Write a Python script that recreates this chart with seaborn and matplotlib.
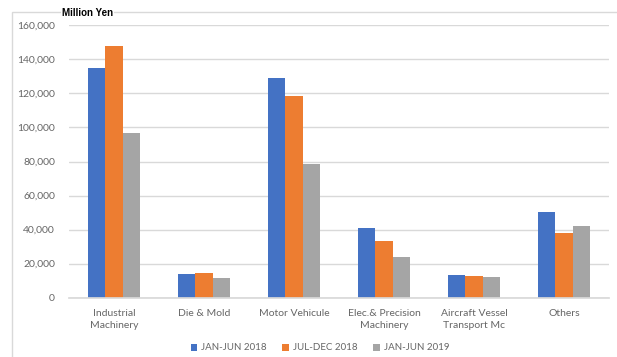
import matplotlib
matplotlib.use("Agg")
import matplotlib.pyplot as plt
from matplotlib.patches import Rectangle
import pandas as pd
import seaborn as sns

categories = [
    "Industrial\nMachinery",
    "Die & Mold",
    "Motor Vehicule",
    "Elec.& Precision\nMachinery",
    "Aircraft Vessel\nTransport Mc",
    "Others",
]
periods = ["JAN-JUN 2018", "JUL-DEC 2018", "JAN-JUN 2019"]
jan_jun_2018 = [134750, 13740, 128880, 40770, 13330, 50340]
jul_dec_2018 = [147850, 14330, 118480, 33480, 12920, 37830]
jan_jun_2019 = [96570, 11400, 78540, 23730, 12160, 42120]
y_ticks = [0, 20000, 40000, 60000, 80000, 100000, 120000, 140000, 160000]
colors = ["#4472C4", "#ED7D31", "#A5A5A5"]

rows = []
for period, values in zip(periods, [jan_jun_2018, jul_dec_2018, jan_jun_2019]):
    for cat, v in zip(categories, values):
        rows.append({"category": cat, "period": period, "value": v})
df = pd.DataFrame(rows)

sns.set_theme(style="white")
plt.rcParams["font.family"] = ["Lato", "DejaVu Sans"]

fig = plt.figure(figsize=(6.17, 3.57), dpi=100)
ax = fig.add_axes([69 / 617, 1 - 297.7 / 357, 540 / 617, 272.4 / 357])

sns.barplot(data=df, x="category", y="value", hue="period",
            order=categories, hue_order=periods, palette=colors,
            width=0.577, gap=0, saturation=1, linewidth=0,
            errorbar=None, ax=ax)

ax.set_ylim(0, 160000)
ax.set_xlim(-0.5, len(categories) - 0.5)
ax.set_yticks(y_ticks)
ax.set_yticklabels([f"{t:,}" for t in y_ticks])
ax.yaxis.grid(True, color="#D9D9D9", linewidth=1)
ax.set_axisbelow(True)
for s in ["top", "right", "left"]:
    ax.spines[s].set_visible(False)
ax.spines["bottom"].set_color("#D9D9D9")
ax.tick_params(axis="both", length=0, labelsize=7.5, labelcolor="#666666")
ax.tick_params(axis="y", pad=10)
ax.tick_params(axis="x", pad=8)
for lbl in ax.get_xticklabels():
    lbl.set_linespacing(1.45)
ax.set_xlabel("")
ax.set_ylabel("")

leg = ax.legend(loc="center", bbox_to_anchor=(320 / 617, 1 - 348 / 357),
                bbox_transform=fig.transFigure, ncol=3, frameon=False,
                fontsize=7, handlelength=0.7, handleheight=0.7,
                handletextpad=0.4, columnspacing=1.6)
for t in leg.get_texts():
    t.set_color("#666666")

# light chart-area border
fig.patches.append(Rectangle((12 / 617, -0.05), 1.2, 1 - 12 / 357 + 0.05,
                             transform=fig.transFigure, fill=False,
                             edgecolor="#D9D9D9", linewidth=1, zorder=0))

fig.text(62 / 617, 1 - 12.5 / 357, "Million Yen", fontsize=7, fontweight="bold",
         color="#000000", va="center", ha="left",
         family=["Liberation Sans", "DejaVu Sans"],
         bbox=dict(facecolor="white", edgecolor="none", pad=1))

fig.savefig("out.png", dpi=100)
